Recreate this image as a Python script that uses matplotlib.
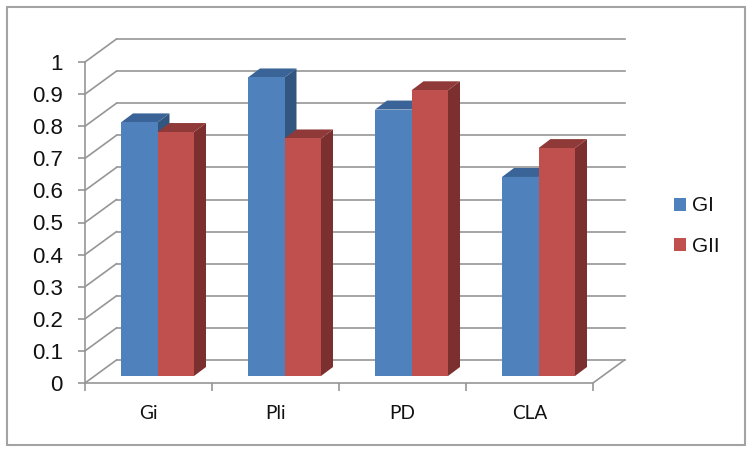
# plot.py
# grouped bars drawn with a fake 3D look, Excel style

import matplotlib
matplotlib.use("Agg")
import matplotlib.pyplot as plt
from matplotlib.patches import Polygon, Rectangle, Patch

# =========================
# 1. data
# =========================
categories = ["Gi", "Pli", "PD", "CLA"]
gi_values = [0.79, 0.93, 0.83, 0.62]
gii_values = [0.76, 0.74, 0.89, 0.71]
y_ticks = [0, 0.1, 0.2, 0.3, 0.4, 0.5, 0.6, 0.7, 0.8, 0.9, 1]
y_tick_labels = ["0", "0.1", "0.2", "0.3", "0.4", "0.5", "0.6", "0.7", "0.8", "0.9", "1"]
series_names = ["GI", "GII"]

# =========================
# 2. style
# =========================
W, H = 753, 453
GRID = "#969696"
FRAME = "#a3a3a3"
FRONT = ["#4f81bd", "#c0504d"]
TOP = ["#3a6497", "#8f3a38"]
SIDE = ["#32567f", "#7b2f2e"]

# plot box in pixels (front plane)
LEFT, RIGHT, Y0, Y1 = 85, 593, 383, 62
PX = (RIGHT - LEFT) / len(categories)
PY = Y0 - Y1

# depth of the wall and of the bars, in data units
WALL_DX, WALL_DY = 31.5 / PX, 23 / PY
BAR_DX, BAR_DY = 12 / PX, 9 / PY
BAR_BASE = 7 / PY
BAR_START = 36 / PX
BAR_W = 36.5 / PX

plt.rcParams["font.family"] = ["Liberation Sans", "DejaVu Sans"]

fig = plt.figure(figsize=(W / 100, H / 100), dpi=100)
ax = fig.add_axes([LEFT / W, (H - Y0) / H, (RIGHT - LEFT) / W, PY / H])
ax.set_xlim(0, len(categories))
ax.set_ylim(0, 1)
ax.patch.set_visible(False)

# outer frame
fig.add_artist(Rectangle((7 / W, (H - 445) / H), 738 / W, 438 / H, transform=fig.transFigure,
                         fill=False, edgecolor=FRAME, linewidth=1.5))

# =========================
# 3. walls and grid
# =========================
n = len(categories)
for t in y_ticks:
    ax.plot([0, WALL_DX], [t, t + WALL_DY], color=GRID, lw=1.2, clip_on=False, zorder=1)
    ax.plot([WALL_DX, n + WALL_DX], [t + WALL_DY, t + WALL_DY], color=GRID, lw=1.2,
            clip_on=False, zorder=1)
ax.plot([n, n + WALL_DX], [0, WALL_DY], color=GRID, lw=1.2, clip_on=False, zorder=1)

# =========================
# 4. bars
# =========================
for i in range(n):
    for s, values in enumerate([gi_values, gii_values]):
        v = values[i] + BAR_BASE
        x0 = i + BAR_START + s * BAR_W
        x1 = x0 + BAR_W
        z = 3 + s
        ax.add_patch(Polygon([(x1, BAR_BASE), (x1 + BAR_DX, BAR_BASE + BAR_DY),
                              (x1 + BAR_DX, v + BAR_DY), (x1, v)],
                             facecolor=SIDE[s], edgecolor="none", clip_on=False, zorder=z))
        ax.add_patch(Polygon([(x0, v), (x0 + BAR_DX, v + BAR_DY),
                              (x1 + BAR_DX, v + BAR_DY), (x1, v)],
                             facecolor=TOP[s], edgecolor="none", clip_on=False, zorder=z))
        ax.add_patch(Rectangle((x0, BAR_BASE), BAR_W, values[i],
                               facecolor=FRONT[s], edgecolor="none", clip_on=False, zorder=z))

# =========================
# 5. axes and labels
# =========================
for side in ["top", "right"]:
    ax.spines[side].set_visible(False)
for side in ["left", "bottom"]:
    ax.spines[side].set_color(GRID)
    ax.spines[side].set_linewidth(1.2)

ax.set_yticks(y_ticks)
ax.set_yticklabels(y_tick_labels, fontsize=16, color="#111111")
ax.tick_params(axis="y", length=5, width=1.2, color=GRID, pad=11)

ax.set_xticks(range(n + 1))
ax.set_xticklabels([])
ax.tick_params(axis="x", which="major", length=6, width=1.2, color=GRID)
ax.set_xticks([i + 0.5 for i in range(n)], minor=True)
ax.set_xticklabels(categories, minor=True, fontsize=13.7, family=["Lato", "DejaVu Sans"],
                   color="#111111")
ax.tick_params(axis="x", which="minor", length=0, pad=16)

# =========================
# 6. legend
# =========================
handles = [Patch(facecolor=FRONT[k], edgecolor="none", label=series_names[k]) for k in range(2)]
fig.legend(handles=handles, loc="center left", bbox_to_anchor=(655 / W, (H - 226) / H),
           frameon=False, fontsize=15, handlelength=0.58, handleheight=0.58,
           handletextpad=0.29, labelspacing=1.02, labelcolor="#111111")

fig.savefig("out.png", dpi=100)
